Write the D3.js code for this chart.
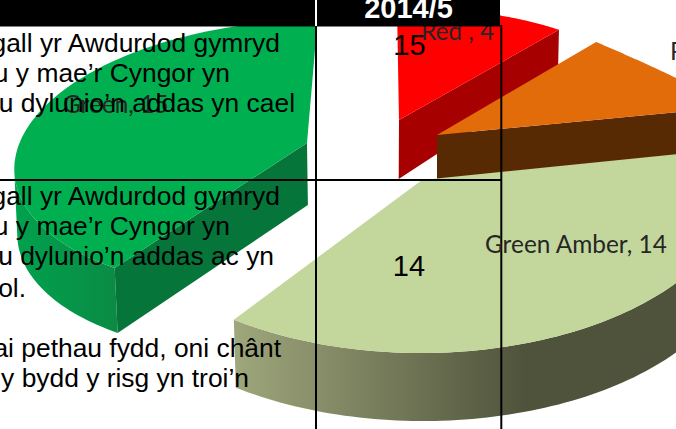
<!DOCTYPE html>
<html><head><meta charset="utf-8"><script src="https://cdn.jsdelivr.net/npm/d3@7"></script>
<style>html,body{margin:0;padding:0;background:#fff}svg{display:block}</style></head><body>
<svg id="c" width="676" height="429"></svg>
<script>
const categories=["Red ","Red Amber","Green Amber","Green"];
const values=[4,4,14,15];
const headerLabel="2014/5";
const tableText=["gall yr Awdurdod gymryd","u y mae’r Cyngor yn","u dylunio’n addas yn cael","gall yr Awdurdod gymryd","u y mae’r Cyngor yn","u dylunio’n addas ac yn","ol.","ai pethau fydd, oni chânt","y bydd y risg yn troi’n"];
const tableEnds=[280,230,295,280,230,274,26,281,249];
const tableBase=[52,82,112,205,235,265,297,357,387];
const D2R=Math.PI/180;
const W=676,H=429;
// pie layout from the data; first slice begins just past 12 o'clock
const pie=d3.pie().sort(null).startAngle(2*D2R).endAngle(362*D2R)(values);
// per-slice perspective: exploded apex, rim ellipse [cx,cy,ax,ay,bx,by], side depth
const apex=[[399,120],[437,135],[422,180],[307,143]];
const rimEl=[[396,117,258,-7.4,-8,-109],[428.4,6.9,315.9,110.6,-51.8,-49.4],[421,179,318,0,0,-174],[290.9,155.4,276.1,-5.6,17,-135.1]];
const depthA=[59,45,66,62],depthR=[45,60,68,65],shift=[-1,0,2,3];
const topCol=["#ff0000","#e26b0a","#c3d69b","#00b050"],edgeCol=["#a60000","#582a04","#4f533b","#05753a"],arcCol=["#a60000","#582a04","url(#ga)","url(#gg)"];
const rim=(p,t)=>[p[0]+p[2]*Math.sin(t)+p[4]*Math.cos(t),p[1]+p[3]*Math.sin(t)+p[5]*Math.cos(t)];
const svg=d3.select("#c");
const defs=svg.append("defs");
function grad(id,x1,x2,a,b){const g=defs.append("linearGradient").attr("id",id).attr("gradientUnits","userSpaceOnUse").attr("x1",x1).attr("x2",x2).attr("y1",0).attr("y2",0);g.append("stop").attr("offset",0).attr("stop-color",a);g.append("stop").attr("offset",1).attr("stop-color",b);}
grad("ga",233,525,"#9fa77c","#4f533b");grad("gg",13,120,"#00a24e","#0b8a44");
const path=d3.line();
pie.forEach((d,i)=>{
 const A=apex[i],a=d.startAngle,b=d.endAngle,p=rimEl[i];
 const ts=d3.range(101).map(k=>a+(b-a)*k/100),pts=ts.map(t=>rim(p,t));
 const dr=q=>[q[0]+shift[i],q[1]+depthR[i]],da=[A[0]+shift[i]*.3,A[1]+depthA[i]];
 const front=pts.filter((q,k)=>Math.cos(ts[k])<-0.05);
 if(front.length)svg.append("path").attr("d",path(front.concat(front.slice().reverse().map(dr)))+"Z").attr("fill",arcCol[i]);
 const q0=pts[0],q1=pts[100];
 if(q0[0]-A[0]<-30)svg.append("path").attr("d",path([A,q0,dr(q0),da])+"Z").attr("fill",edgeCol[i]);
 if(q1[0]-A[0]>30)svg.append("path").attr("d",path([A,q1,dr(q1),da])+"Z").attr("fill",edgeCol[i]);
 svg.append("path").attr("d",path([A].concat(pts))+"Z").attr("fill",topCol[i]);
});
const rule=(x1,y1,x2,y2,c)=>svg.append("line").attr("x1",x1).attr("y1",y1).attr("x2",x2).attr("y2",y2).attr("stroke",c||"#000").attr("stroke-width",2);
rule(0,180,502,180);rule(316,26,316,H);rule(501.3,25,501.3,H);
const lab=(i,x,y)=>svg.append("text").attr("x",x).attr("y",y).attr("font-family","Lato").attr("font-size",24.4).attr("fill","#262626").text(categories[i]+", "+values[i]);
lab(3,63,113);lab(0,421,40);lab(2,485,253);lab(1,670,60);
svg.append("rect").attr("width",500).attr("height",26.5).attr("fill","#000");
rule(316,0,316,26,"#fff");
const ar=(t,x,y,s,a,c,w)=>svg.append("text").attr("x",x).attr("y",y).attr("font-family","Liberation Sans").attr("font-size",s).attr("text-anchor",a).attr("fill",c||"#000").attr("font-weight",w||400).text(t);
tableText.forEach((t,i)=>ar(t,tableEnds[i],tableBase[i],26.4,"end"));
ar(headerLabel,408.5,18,29,"middle","#fff",700);
ar(String(values[3]),409.5,55,29,"middle");ar(String(values[2]),409,276,29,"middle");
</script></body></html>
